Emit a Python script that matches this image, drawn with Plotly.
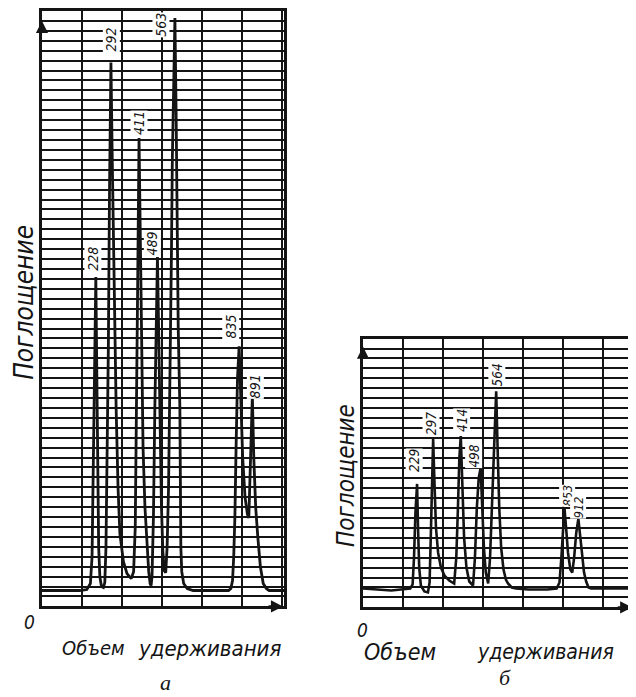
import plotly.graph_objects as go

# the page body adds an 8 px margin; the figure is sized so the page matches 636x697
PAGE_W, PAGE_H, BODY = 636, 697, 8
W, H = PAGE_W - BODY, PAGE_H - BODY

# ---------------- data: chromatogram "а" ----------------
vol_a = [0, 160, 190, 205, 212, 218, 224, 228, 232, 236, 240, 245, 252, 260,
         266, 271, 276, 281, 286, 292, 297, 302, 308, 314, 322, 330, 345, 360, 378,
         388, 395, 400, 405, 411, 416, 421, 428, 436, 445, 452, 458, 462,
         466, 472, 478, 484, 489, 494, 500, 506, 512, 518, 524,
         530, 536, 541, 548, 552, 557, 563, 568, 572, 577, 584, 586, 588, 592, 600, 615, 640,
         700, 790, 800, 807, 812, 817, 822, 828, 835, 842, 850, 860, 870, 876,
         880, 886, 891, 897, 905, 914, 925, 937, 950, 962, 1025]
abs_a = [1.6, 1.6, 1.7, 2.3, 5.0, 14.0, 26.0, 33.2, 24.0, 12.0, 6.0, 3.0, 2.0, 1.9,
         2.4, 6.0, 14.0, 26.0, 42.0, 54.8, 46.0, 37.0, 28.0, 20.0, 12.0, 7.3, 4.5, 3.3, 2.8,
         3.5, 8.0, 18.0, 32.0, 47.2, 36.0, 26.0, 16.0, 10.0, 6.0, 3.5, 2.3, 2.1,
         3.0, 9.0, 20.0, 30.0, 35.2, 28.0, 18.0, 10.0, 5.5, 3.6, 3.4,
         6.0, 12.0, 20.0, 35.0, 45.0, 53.0, 59.3, 50.0, 40.0, 28.0, 20.0, 12.0, 6.0, 3.5, 2.3, 1.8, 1.6,
         1.6, 1.6, 1.8, 2.6, 5.0, 9.0, 16.0, 23.0, 26.2, 21.0, 15.0, 11.0, 9.3, 8.9,
         12.0, 18.0, 21.2, 15.0, 10.0, 7.0, 4.0, 2.3, 1.8, 1.6, 1.6]
peaks_a = [228, 292, 411, 489, 563, 835, 891]
heights_a = [33.2, 54.8, 47.2, 35.2, 59.3, 26.2, 21.2]

# ---------------- data: chromatogram "б" ----------------
vol_b = [0, 60, 120, 160, 200, 210, 216, 222, 229, 233, 238, 245, 260, 275,
         282, 288, 293, 297, 302, 309, 318, 330, 345, 365, 386,
         395, 402, 408, 414, 420, 428, 438, 450, 466,
         474, 482, 490, 498, 505, 512, 520, 530,
         538, 546, 554, 564, 570, 577, 585, 595, 605, 614, 630, 648,
         700, 780, 820, 832, 840, 846, 853, 860, 868, 878, 886,
         894, 903, 912, 918, 926, 936, 945, 955, 966, 1000, 1156]
abs_b = [1.9, 1.8, 1.7, 1.8, 1.9, 2.3, 5.0, 9.5, 12.4, 8.0, 4.0, 2.2, 1.6, 1.5,
         2.5, 8.0, 14.0, 16.9, 13.0, 8.0, 5.5, 4.0, 3.2, 2.7, 2.4,
         5.0, 10.0, 15.0, 17.2, 12.0, 7.0, 4.0, 2.6, 2.2,
         5.0, 10.0, 13.0, 14.0, 10.0, 6.0, 3.5, 2.4,
         5.0, 10.0, 16.0, 21.7, 16.0, 10.0, 6.0, 3.8, 2.8, 2.4, 2.0, 1.9,
         1.8, 1.8, 1.9, 2.5, 5.0, 8.0, 10.0, 8.0, 5.5, 3.8, 3.5,
         5.0, 7.5, 8.9, 7.5, 5.5, 3.5, 2.6, 2.0, 1.9, 1.9, 1.9]
peaks_b = [229, 297, 414, 498, 564, 853, 912]
heights_b = [12.4, 16.9, 17.2, 14.0, 21.7, 10.0, 8.9]

y_title = "Поглощение"
x_title = ["Объем", "удерживания"]
panel_letters = ["а", "б"]

# label offsets in pixels (dx, dy-up) and font sizes, relative to peak tops
off_a = [(-3, 18), (0, 23), (0, 15), (-5, 14), (-14, -7), (-8, 20), (3, 10)]
off_b = [(-3, 23), (-2, 15), (1, 16), (-7, 12), (1, 16), (3, 12), (0, 11)]
fs_a = [14, 14, 14, 14, 14, 14, 14]
fs_b = [13.5, 13.5, 13.5, 13.5, 13.5, 12.5, 12.5]

def px(x):
    return (x - BODY) / W

def py(y):
    return 1 - (y - BODY) / H

INK = "#141414"
HAND = "DejaVu Sans Condensed, Liberation Sans Narrow, DejaVu Sans"

fig = go.Figure()
fig.add_trace(go.Scatter(x=vol_a, y=abs_a, mode="lines", xaxis="x", yaxis="y",
                         line=dict(color=INK, width=2.8), hoverinfo="skip"))
fig.add_trace(go.Scatter(x=vol_b, y=abs_b, mode="lines", xaxis="x2", yaxis="y2",
                         line=dict(color=INK, width=2.6), hoverinfo="skip"))

common_x = dict(showgrid=True, gridcolor=INK, gridwidth=1.6, dtick=169.5, tick0=0,
                showticklabels=False, ticks="", zeroline=False, showline=True,
                linecolor=INK, linewidth=2.6, fixedrange=True)
common_y = dict(showgrid=True, gridcolor=INK, gridwidth=1.7, dtick=1, tick0=0,
                showticklabels=False, ticks="", zeroline=False, showline=True,
                linecolor=INK, linewidth=2.6, fixedrange=True)

fig.update_layout(
    width=W, height=H, margin=dict(l=0, r=0, t=0, b=0),
    paper_bgcolor="white", plot_bgcolor="white", showlegend=False,
    xaxis=dict(domain=[px(42), px(284)], range=[0, 1025], anchor="y", mirror=True, **common_x),
    yaxis=dict(domain=[py(606), py(8)], range=[0, 60], anchor="x", mirror=True, **common_y),
    xaxis2=dict(domain=[px(363), 1.0], range=[0, 1156], anchor="y2", mirror=True, **common_x),
    yaxis2=dict(domain=[py(607), py(337)], range=[0, 27], anchor="x2", mirror=False, **common_y),
)

ann = []
# peak labels
for xs, ys, offs, sizes, xr, yr in [(peaks_a, heights_a, off_a, fs_a, "x", "y"),
                                    (peaks_b, heights_b, off_b, fs_b, "x2", "y2")]:
    for v, h, (dx, dy), fs in zip(xs, ys, offs, sizes):
        ann.append(dict(x=v, y=h, xref=xr, yref=yr, text=str(v), showarrow=False,
                        textangle=-90, xanchor="center", yanchor="middle",
                        xshift=dx, yshift=dy, bgcolor="white", borderpad=0,
                        font=dict(family=HAND, size=fs, color=INK, style="italic")))

# axis arrows
for (x, y, xr, yr, axx, ayy) in [(0, 59.0, "x", "y", 0, 10), (1021, 0, "x", "y", -16, 0),
                                 (0, 26.2, "x2", "y2", 0, 10), (1140, 0, "x2", "y2", -16, 0)]:
    ann.append(dict(x=x, y=y, xref=xr, yref=yr, ax=axx, ay=ayy, showarrow=True,
                    arrowhead=2, arrowsize=1.1, arrowwidth=2.2, arrowcolor=INK,
                    text="", standoff=0))

def text_at(x, y, s, size, family=HAND, angle=0):
    ann.append(dict(x=px(x), y=py(y), xref="paper", yref="paper", text=s, showarrow=False,
                    xanchor="center", yanchor="middle", textangle=angle,
                    font=dict(family=family, size=size, color=INK, style="italic")))

# axis titles
text_at(24, 301, y_title, 26, angle=-90)
text_at(346, 475, y_title, 24, angle=-90)
text_at(93, 648, x_title[0], 20)
text_at(209, 648, x_title[1], 22)
text_at(400, 652, x_title[0], 23)
text_at(545, 652, x_title[1], 21)
# origins
text_at(29, 622, "0", 19)
text_at(362, 630, "0", 19)
# panel letters
text_at(165, 682, panel_letters[0], 22, family="Liberation Serif")
text_at(505, 677, panel_letters[1], 22, family="Liberation Serif")

fig.update_layout(annotations=ann)
fig.write_html("out.html")
